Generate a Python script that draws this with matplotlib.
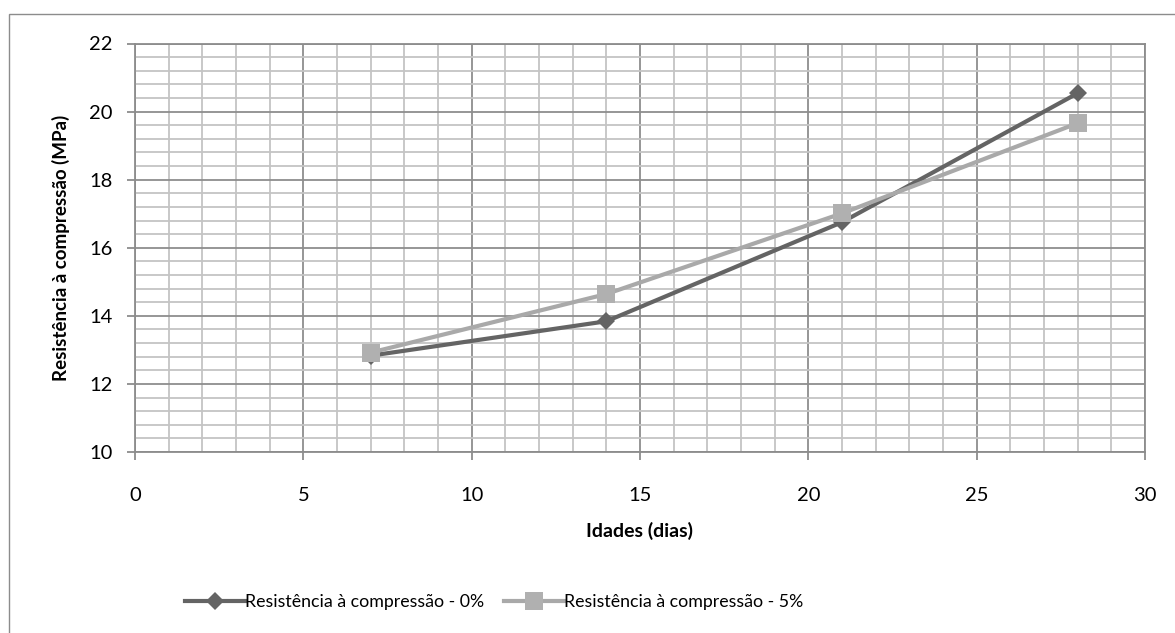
import matplotlib.pyplot as plt
from matplotlib.patches import Rectangle
from matplotlib.ticker import MultipleLocator

# idades de ensaio (dias) e resistencias medias (MPa)
idades = [7, 14, 21, 28]
res_0 = [12.83, 13.84, 16.75, 20.54]
res_5 = [12.92, 14.64, 17.01, 19.66]

rotulo_0 = 'Resistência à compressão - 0%'
rotulo_5 = 'Resistência à compressão - 5%'

plt.rcParams['font.family'] = ['Lato', 'DejaVu Sans']

W, H = 1175, 633
fig = plt.figure(figsize=(W / 100, H / 100), dpi=100)
ax = fig.add_axes([135 / W, 1 - 452 / H, (1145 - 135) / W, (452 - 43.5) / H])

# moldura externa do grafico
fig.patches.append(Rectangle((9 / W, -0.1), 1.2, 1 - 14 / H + 0.1,
                             transform=fig.transFigure, fill=False,
                             edgecolor='#8c8c8c', linewidth=1.0, zorder=0))

ax.set_xlim(0, 30)
ax.set_ylim(10, 22)
ax.xaxis.set_major_locator(MultipleLocator(5))
ax.xaxis.set_minor_locator(MultipleLocator(1))
ax.yaxis.set_major_locator(MultipleLocator(2))
ax.yaxis.set_minor_locator(MultipleLocator(0.4))

ax.grid(which='minor', color='#c4c4c4', linewidth=1.3, zorder=0)
ax.grid(which='major', color='#8e8e8e', linewidth=1.3, zorder=0)
ax.set_axisbelow(True)

for lado in ax.spines.values():
    lado.set_color('#8c8c8c')
    lado.set_linewidth(1.3)

ax.tick_params(which='major', length=6, width=1.3, color='#8c8c8c',
               labelsize=14.5)
ax.tick_params(which='minor', length=0)
ax.tick_params(axis='x', pad=19)
ax.tick_params(axis='y', pad=10)

ax.plot(idades, res_0, color='#646464', linewidth=3, marker='D',
        markersize=9.5, markeredgewidth=0, label=rotulo_0, zorder=3)
ax.plot(idades, res_5, color='#a9a9a9', linewidth=3, marker='s',
        markersize=13, markeredgewidth=0, markerfacecolor='#b0b0b0',
        label=rotulo_5, zorder=4)

ax.set_xlabel('Idades (dias)', fontsize=14, fontweight='bold', labelpad=13)
ax.set_ylabel('Resistência à compressão (MPa)', fontsize=13.5,
              fontweight='bold', labelpad=14)

ax.legend(loc='center', bbox_to_anchor=(494 / W, 1 - 602 / H),
          bbox_transform=fig.transFigure, ncol=2, frameon=False,
          fontsize=12.8, handlelength=3.4, handletextpad=0.0,
          columnspacing=1.1)

fig.savefig('out.png', dpi=100)
